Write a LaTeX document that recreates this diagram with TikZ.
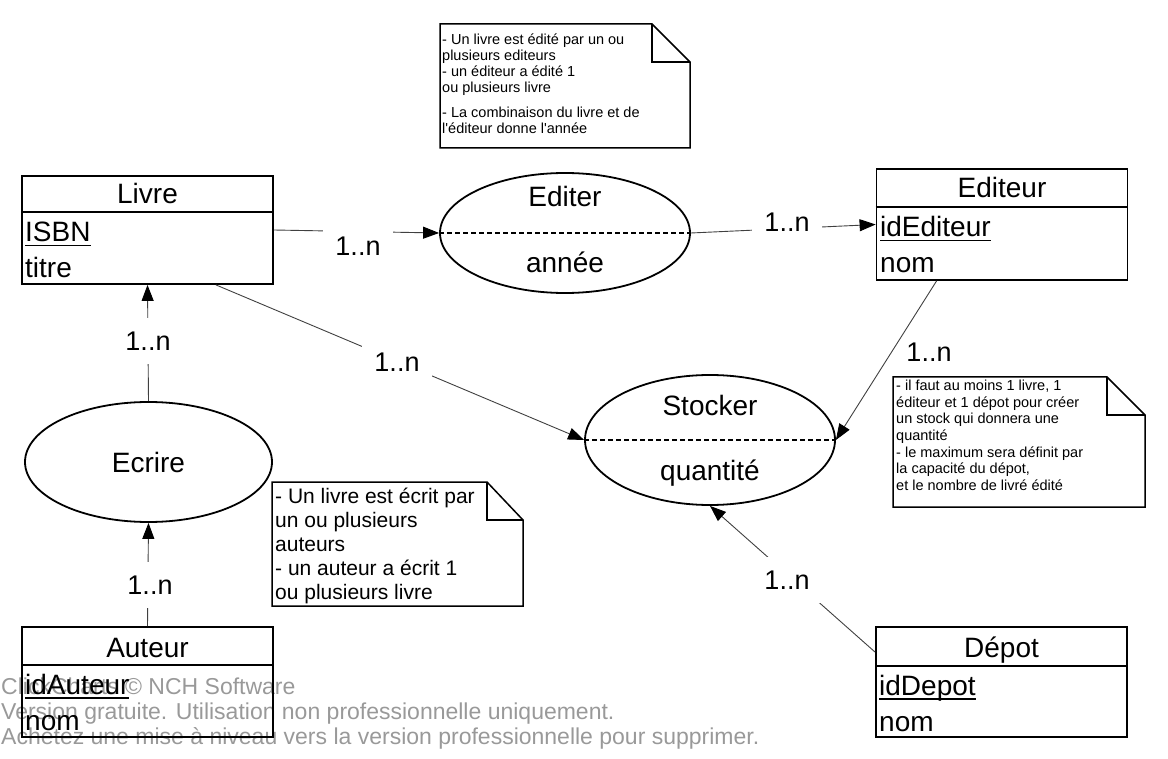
\documentclass[tikz,border=0pt]{standalone}
\usepackage{fontspec}
\setmainfont{Liberation Sans}
\usetikzlibrary{shapes.geometric,arrows.meta}
\newcommand\keyul[1]{\setbox0\hbox{#1}\rlap{\raisebox{-4.5pt}{\rule{\wd0}{1.5pt}}}\box0}
\newcommand\sq{{\XeTeXglyph\XeTeXcharglyph"27\relax}}
\begin{document}
\begin{tikzpicture}[x=1pt,y=-1pt,
  ent/.style={draw, line width=1.8pt, inner sep=0pt, minimum width=251pt},
  rel/.style={ellipse, draw, line width=1.8pt, inner sep=0pt, minimum width=250pt, minimum height=120pt},
  conn/.style={draw=black!75, line width=0.9pt, -{Triangle[length=16pt,width=12pt,color=black]}},
  lbl/.style={fill=white, inner xsep=12pt, inner ysep=14pt, font=\fontsize{27}{30}\selectfont},
  big/.style={font=\fontsize{28}{32}\selectfont, inner sep=0pt},
  ttl/.style={big, anchor=base},
  att/.style={big, anchor=base west},
  notebox/.style={draw, line width=1.5pt, line join=miter},
  ntxt/.style={anchor=base west, inner sep=0pt, font=\fontsize{14.5}{16}\selectfont},
  mtxt/.style={anchor=base west, inner sep=0pt, font=\fontsize{21}{24}\selectfont},
  wm/.style={anchor=base west, inner sep=0pt, text=black!40, font=\fontsize{23}{25}\selectfont},
  sepline/.style={line width=1.5pt},
  dashsep/.style={line width=1.5pt, dash pattern=on 5pt off 3pt}
]
\useasboundingbox (0,0) rectangle (1168,759);

% watermark
\node[wm] (wm1) at (1,694) {ClickCharts © NCH Software};
\node[wm] (wm2) at (1,719) {Version gratuite. Utilisation non professionnelle uniquement.};
\node[wm] (wm3) at (1,744) {Achetez une mise à niveau vers la version professionnelle pour supprimer.};

% entities
\node[ent, minimum height=108pt] (livre) at (147.5,230) {};
\draw[sepline] ([yshift=-37pt]livre.north west) -- ([yshift=-37pt]livre.north east);
\node[ttl] (livreT) at (147.5,204) {Livre};
\node[att] (livreA) at (25,242) {\keyul{ISBN}};
\node[att] (livreB) at (25,278) {titre};

\node[ent, minimum height=111pt] (editeur) at (1002,224.5) {};
\draw[sepline] ([yshift=-39pt]editeur.north west) -- ([yshift=-39pt]editeur.north east);
\node[ttl] (editeurT) at (1002,198) {Editeur};
\node[att] (editeurA) at (880,237) {\keyul{idEditeur}};
\node[att] (editeurB) at (880,273) {nom};

\node[ent, minimum height=110pt] (auteur) at (147.5,682) {};
\draw[sepline] ([yshift=-39pt]auteur.north west) -- ([yshift=-39pt]auteur.north east);
\node[ttl] (auteurT) at (147.5,657) {Auteur};
\node[att] (auteurA) at (25,694) {\keyul{idAuteur}};
\node[att] (auteurB) at (25,730) {nom};

\node[ent, minimum height=110pt] (depot) at (1001.5,682) {};
\draw[sepline] ([yshift=-40pt]depot.north west) -- ([yshift=-40pt]depot.north east);
\node[ttl] (depotT) at (1001.5,657) {Dépot};
\node[att] (depotA) at (879,695) {\keyul{idDepot}};
\node[att] (depotB) at (879,731) {nom};

% relations
\node[rel] (editer) at (565,233) {};
\draw[dashsep] (editer.west) -- (editer.east);
\node[ttl] (editerT) at (565,207) {Editer};
\node[ttl] (editerA) at (565,273) {année};

\node[rel, minimum height=130pt] (stocker) at (710,440) {};
\draw[dashsep] (stocker.west) -- (stocker.east);
\node[ttl] (stockerT) at (710,416) {Stocker};
\node[ttl] (stockerA) at (710,480) {quantité};

\node[rel, minimum width=247pt] (ecrire) at (148.5,462) {};
\node[ttl] (ecrireT) at (148.5,472) {Ecrire};

% connectors
\draw[conn] (livre.east) -- (editer.west);
\draw[conn] (editer.east) -- (editeur.west);
\draw[conn] ([xshift=-58pt]livre.south east) -- (stocker.west);
\draw[conn] ([xshift=61pt]editeur.south west) -- (stocker.east);
\draw[conn] ([yshift=-26pt]depot.north west) -- (stocker.south);
\draw[conn] (ecrire.north) -- (livre.south);
\draw[conn] (auteur.north) -- (ecrire.south);

% labels
\node[lbl] (l1) at (358,246) {1..n};
\node[lbl] (l2) at (787,222) {1..n};
\node[lbl] (l3) at (397,362) {1..n};
\node[lbl, fill=none, inner sep=2pt] (l4) at (929,352) {1..n};
\node[lbl] (l5) at (787,580) {1..n};
\node[lbl] (l6) at (148,341) {1..n};
\node[lbl] (l7) at (150,585) {1..n};

% notes
\draw[notebox] (440,24) -- (652,24) -- (690,62) -- (690,148) -- (440,148) -- cycle;
\draw[notebox] (652,24) -- (652,62) -- (690,62);
\node[ntxt] (t1) at (442,45) {- Un livre est édité par un ou};
\node[ntxt] (t2) at (442,61) {plusieurs editeurs};
\node[ntxt] (t3) at (442,77) {- un éditeur a édité 1};
\node[ntxt] (t4) at (442,93) {ou plusieurs livre};
\node[ntxt] (t5) at (442,118) {- La combinaison du livre et de};
\node[ntxt] (t6) at (442,134) {l\sq éditeur donne l\sq année};

\draw[notebox] (272,482) -- (487,482) -- (523,520) -- (523,606) -- (272,606) -- cycle;
\draw[notebox] (487,482) -- (487,520) -- (523,520);
\node[mtxt] (m1) at (275,503) {- Un livre est écrit par};
\node[mtxt] (m2) at (275,527) {un ou plusieurs};
\node[mtxt] (m3) at (275,551) {auteurs};
\node[mtxt] (m4) at (275,575) {- un auteur a écrit 1};
\node[mtxt] (m5) at (275,599) {ou plusieurs livre};

\draw[notebox] (893,377) -- (1107,377) -- (1145,415) -- (1145,507) -- (893,507) -- cycle;
\draw[notebox] (1107,377) -- (1107,415) -- (1145,415);
\node[ntxt] (r1) at (896,391) {- il faut au moins 1 livre, 1};
\node[ntxt] (r2) at (896,407.5) {éditeur et 1 dépot pour créer};
\node[ntxt] (r3) at (896,424) {un stock qui donnera une};
\node[ntxt] (r4) at (896,440.5) {quantité};
\node[ntxt] (r5) at (896,457) {- le maximum sera définit par};
\node[ntxt] (r6) at (896,473.5) {la capacité du dépot,};
\node[ntxt] (r7) at (896,490) {et le nombre de livré édité};
\end{tikzpicture}
\end{document}
